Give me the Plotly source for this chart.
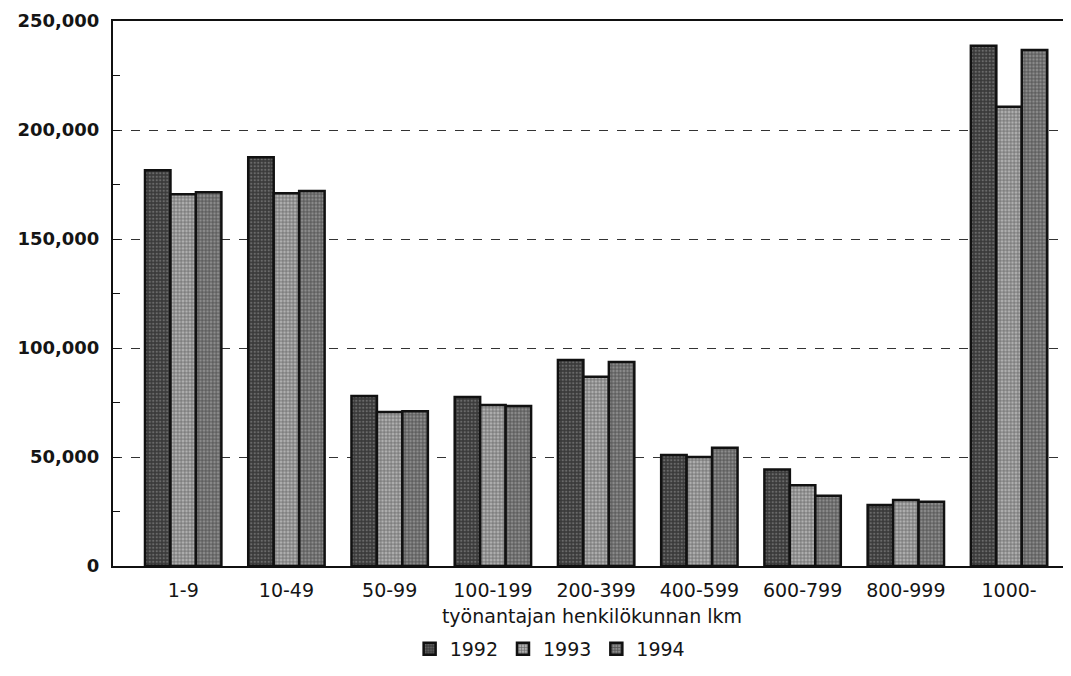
import plotly.graph_objects as go

categories = ['1-9', '10-49', '50-99', '100-199', '200-399', '400-599', '600-799', '800-999', '1000-']
v1992 = [181500, 187500, 78000, 77500, 94500, 50900, 44300, 28000, 238700]
v1993 = [170500, 171000, 70600, 73800, 86800, 50000, 37000, 30300, 210700]
v1994 = [171500, 172000, 71000, 73400, 93600, 54300, 32200, 29500, 236700]

FONT = 'DejaVu Sans, Verdana, sans-serif'

fig = go.Figure()

styles = [
    ('1992', v1992, '#3a3a3a', '.', '#9a9a9a', 3.5, 0.35),
    ('1993', v1993, '#b0b0b0', '+', '#202020', 3.5, 0.4),
    ('1994', v1994, '#8c8c8c', '+', '#151515', 3.5, 0.45),
]
for name, vals, bg, shape, fg, size, sol in styles:
    fig.add_trace(go.Bar(
        x=categories, y=vals, name=name,
        marker=dict(color=bg, line=dict(color='#111', width=2.5),
                    pattern=dict(shape=shape, fgcolor=fg, bgcolor=bg,
                                 size=size, solidity=sol)),
    ))

# page body adds an 8px margin, so the figure is 8px smaller than the window
fig.update_layout(
    width=1063, height=668,
    barmode='group', bargap=0.26, bargroupgap=0,
    margin=dict(l=105, r=0, t=13, b=110, autoexpand=False),
    paper_bgcolor='white', plot_bgcolor='white',
    font=dict(family=FONT, color='#151515'),
    legend=dict(orientation='h', x=0.51, xanchor='center', xref='container',
                y=0.012, yanchor='bottom', yref='container',
                font=dict(size=19), traceorder='normal'),
)

fig.update_xaxes(
    range=[-0.68, 8.6], automargin=False,
    showline=True, mirror=True, linecolor='#111', linewidth=2,
    ticks='', tickfont=dict(size=19), ticklabelstandoff=6,
    title=dict(text='työnantajan henkilökunnan lkm', font=dict(size=19), standoff=10),
)

fig.update_yaxes(
    range=[0, 250000], dtick=50000, tickformat=',', automargin=False,
    showline=True, linecolor='#111', linewidth=2,
    ticks='inside', ticklen=7, tickcolor='#111',
    showgrid=True, gridcolor='#333', griddash='dash', gridwidth=1,
    zeroline=False,
    minor=dict(dtick=25000, ticks='inside', ticklen=7, tickcolor='#111', showgrid=False),
    tickfont=dict(size=18, weight='bold'), ticklabelstandoff=8,
)

fig.write_html('out.html')
